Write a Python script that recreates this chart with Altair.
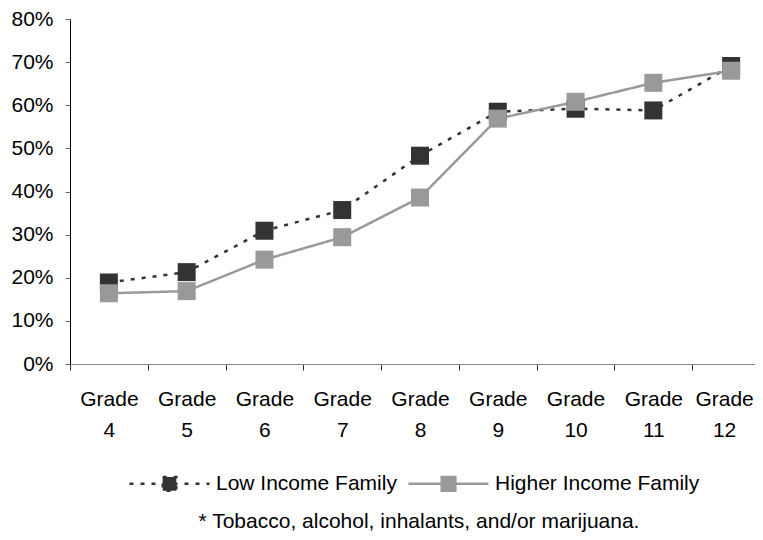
import altair as alt
import pandas as pd

grades = ["Grade 4", "Grade 5", "Grade 6", "Grade 7", "Grade 8",
          "Grade 9", "Grade 10", "Grade 11", "Grade 12"]
series = ["Low Income Family", "Higher Income Family"]
low_income = [18.9, 21.3, 30.9, 35.7, 48.3, 58.5, 59.2, 58.8, 69.1]
higher_income = [16.4, 16.9, 24.2, 29.4, 38.6, 56.9, 60.8, 65.2, 68.0]
y_ticks = [0, 10, 20, 30, 40, 50, 60, 70, 80]
footnote = "* Tobacco, alcohol, inhalants, and/or marijuana."

rows = []
for s, vals in zip(series, [low_income, higher_income]):
    for g, v in zip(grades, vals):
        rows.append({"grade": g, "series": s, "value": v})
df = pd.DataFrame(rows)

FONT = "Liberation Sans"

legend = alt.Legend(
    title=None, orient="none", legendX=58, legendY=423, direction="horizontal",
    symbolType="M-1,0H1M-0.17,-0.17H0.17V0.17H-0.17Z", symbolSize=6400,
    symbolStrokeWidth=2.5, labelFont=FONT, labelFontSize=21, labelColor="black",
    labelOffset=5, columnPadding=6, padding=0, labelLimit=0,
)

x_enc = alt.X(
    "grade:N", sort=grades,
    scale=alt.Scale(type="band", range=[0, 700], paddingInner=0, paddingOuter=0),
    axis=alt.Axis(
        title=None, tickBand="extent", labelExpr="split(datum.label, ' ')",
        labelLineHeight=31, labelPadding=18, tickSize=6, labelFontSize=21,
        labelFont=FONT, labelColor="black", domainColor="#888888", tickColor="#333333",
        labelAngle=0, grid=False,
        labelOffset={"condition": {"test": "datum.value == 'Grade 12'", "value": -7},
                     "value": 0},
    ),
)
y_enc = alt.Y(
    "value:Q", scale=alt.Scale(domain=[0, 80], nice=False),
    axis=alt.Axis(
        title=None, values=y_ticks, labelExpr="datum.value + '%'", grid=False,
        domainColor="black", tickColor="#666666", tickSize=5, labelPadding=12,
        labelFontSize=21, labelFont=FONT, labelColor="black",
    ),
)
color_enc = alt.Color("series:N", scale=alt.Scale(domain=series, range=["#333333", "#999999"]),
                      legend=legend)
dash_enc = alt.StrokeDash("series:N", scale=alt.Scale(domain=series, range=[[4, 7], [1, 0]]),
                          legend=legend)

base = alt.Chart(df)
lines = base.mark_line(strokeWidth=2.5).encode(x=x_enc, y=y_enc, color=color_enc,
                                                 strokeDash=dash_enc)
points = base.mark_point(shape="square", filled=True, size=324, opacity=1).encode(
    x=x_enc, y=y_enc, color=color_enc)

note = alt.Chart(pd.DataFrame({"note": [footnote]})).mark_text(
    font=FONT, fontSize=21, color="black", align="center", baseline="alphabetic"
).encode(text="note:N", x=alt.value(349), y=alt.value(509))

chart = alt.layer(lines, points, note).properties(
    width=685, height=345,
    autosize=alt.AutoSizeParams(type="none"),
    padding={"left": 62, "top": 11, "right": 0, "bottom": 168},
).configure_view(stroke=None)

chart.save("out.html", embed_options={"renderer": "svg", "actions": False})
